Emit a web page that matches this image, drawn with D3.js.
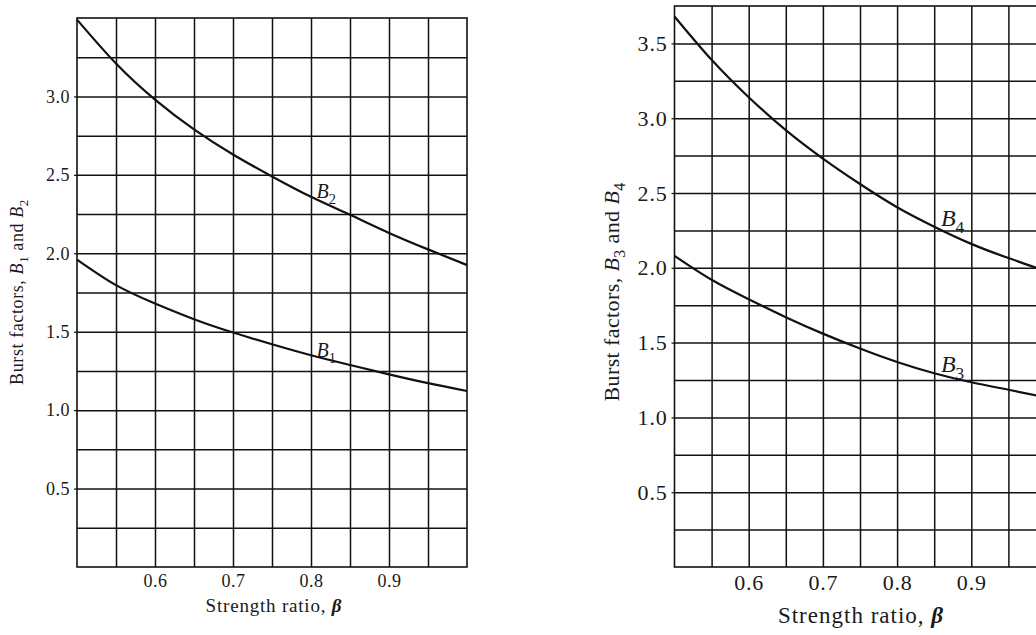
<!DOCTYPE html>
<html>
  <head>
    <meta charset="utf-8">
    <title>Burst factors vs strength ratio</title>
    <script src="https://cdn.jsdelivr.net/npm/d3@7"></script>
    <style>
      body { margin: 0; background: #fff; }
      svg { display: block; }
      text { font-family: "Liberation Serif", "Times New Roman", serif; fill: #1a1a1a; }
      .grid line { stroke: #111; stroke-width: 1.5; }
      .grid .domain { display: none; }
      .frame { fill: none; stroke: #111; stroke-width: 1.6; }
      .curve { fill: none; stroke: #111; stroke-width: 2.2; }
      .ticks .domain { display: none; }
      .ticks line { stroke: #111; stroke-width: 1.2; }
    </style>
  </head>

  <body>
    <svg id="chart" width="1036" height="635"></svg>

    <script>
      // data
      const beta = [0.5, 0.55, 0.6, 0.65, 0.7, 0.75, 0.8, 0.85, 0.9, 0.95, 1.0];
      const b1 = [1.96, 1.797, 1.68, 1.58, 1.495, 1.42, 1.35, 1.288, 1.228, 1.172, 1.122];
      const b2 = [3.49, 3.21, 2.98, 2.79, 2.63, 2.49, 2.36, 2.245, 2.13, 2.025, 1.925];
      const b3 = [2.08, 1.92, 1.79, 1.67, 1.56, 1.46, 1.37, 1.295, 1.235, 1.185, 1.135];
      const b4 = [3.68, 3.39, 3.14, 2.92, 2.73, 2.56, 2.405, 2.275, 2.16, 2.065, 1.98];

      const xTickLabels = [0.6, 0.7, 0.8, 0.9];
      const leftYTickLabels = [0.5, 1.0, 1.5, 2.0, 2.5, 3.0];
      const rightYTickLabels = [0.5, 1.0, 1.5, 2.0, 2.5, 3.0, 3.5];

      // curve labels: [sub, beta, value]
      const leftLabels = [["2", 0.807, 2.35], ["1", 0.807, 1.338]];
      const rightLabels = [["4", 0.859, 2.28], ["3", 0.859, 1.304]];

      const svg = d3.select("#chart");

      function panel(o) {
        const g = svg.append("g");
        const x = d3.scaleLinear().domain([0.5, 1.0]).range([o.left, o.right]);
        const y = d3.scaleLinear().domain([0, o.ymax]).range([o.bottom, o.top]);
        const w = o.right - o.left, h = o.bottom - o.top;

        // grid
        g.append("g").attr("class", "grid")
          .attr("transform", `translate(0,${o.bottom})`)
          .call(d3.axisBottom(x).tickValues(d3.range(0.55, 0.999, 0.05)).tickSize(-h).tickFormat(""));
        g.append("g").attr("class", "grid")
          .attr("transform", `translate(${o.left},0)`)
          .call(d3.axisLeft(y).tickValues(d3.range(0.25, o.ymax - 0.01, 0.25)).tickSize(-w).tickFormat(""));
        g.append("rect").attr("class", "frame")
          .attr("x", o.left).attr("y", o.top).attr("width", w).attr("height", h);

        // tick labels
        const ya = g.append("g").attr("class", "ticks")
          .attr("transform", `translate(${o.left},0)`)
          .call(d3.axisLeft(y).tickValues(o.yticks).tickSize(3).tickPadding(4).tickFormat(d3.format(".1f")));
        ya.selectAll("text").style("font-size", o.fs + "px").style("letter-spacing", o.ls + "px");
        const xa = g.append("g").attr("class", "ticks")
          .attr("transform", `translate(0,${o.bottom})`)
          .call(d3.axisBottom(x).tickValues(xTickLabels).tickSize(0).tickPadding(o.xpad).tickFormat(d3.format(".1f")));
        xa.selectAll("text").style("font-size", o.fs + "px").style("letter-spacing", o.ls + "px");

        // curves
        const line = d3.line().x((d, i) => x(beta[i])).y(d => y(d)).curve(d3.curveNatural);
        o.series.forEach(s => g.append("path").attr("class", "curve").attr("d", line(s)));

        // curve labels
        o.labels.forEach(l => {
          const t = g.append("text").attr("x", x(l[1])).attr("y", y(l[2]))
            .style("font-size", o.lfs + "px");
          t.append("tspan").style("font-style", "italic").text("B");
          t.append("tspan").attr("dy", o.lfs * 0.28).style("font-size", (o.lfs * 0.72) + "px").text(l[0]);
        });

        // axis titles
        const xt = g.append("text").attr("x", o.xtx).attr("y", o.xty)
          .attr("text-anchor", "middle").style("font-size", o.xfs + "px")
          .style("letter-spacing", o.xls + "px");
        xt.append("tspan").text("Strength ratio, ");
        xt.append("tspan").style("font-weight", "bold").style("font-style", "italic").text("β");

        const yt = g.append("text")
          .attr("transform", `translate(${o.ytx},${o.yty}) rotate(-90)`)
          .attr("text-anchor", "middle").style("font-size", o.tfs + "px")
          .style("letter-spacing", o.tls + "px");
        yt.append("tspan").text("Burst factors, ");
        yt.append("tspan").style("font-style", "italic").text("B");
        yt.append("tspan").attr("dy", o.tfs * 0.25).style("font-size", (o.tfs * 0.72) + "px").text(o.ya);
        yt.append("tspan").attr("dy", -o.tfs * 0.25).text(" and ");
        yt.append("tspan").style("font-style", "italic").text("B");
        yt.append("tspan").attr("dy", o.tfs * 0.25).style("font-size", (o.tfs * 0.72) + "px").text(o.yb);
      }

      panel({
        left: 77, right: 467, top: 18, bottom: 567, ymax: 3.5,
        yticks: leftYTickLabels, series: [b1, b2], labels: leftLabels,
        fs: 18, ls: 0.5, lfs: 20, tfs: 18, tls: 0.6, xfs: 19, xls: 0.8, xpad: 7,
        xtx: 274, xty: 612, ytx: 23, yty: 292, ya: "1", yb: "2"
      });

      panel({
        left: 674.5, right: 1045.5, top: 6, bottom: 567, ymax: 3.75,
        yticks: rightYTickLabels, series: [b3, b4], labels: rightLabels,
        fs: 22, ls: 0.8, lfs: 24, tfs: 22, tls: 0.4, xfs: 23, xls: 1, xpad: 7,
        xtx: 861, xty: 623, ytx: 619, yty: 292, ya: "3", yb: "4"
      });
    </script>
  </body>
</html>
